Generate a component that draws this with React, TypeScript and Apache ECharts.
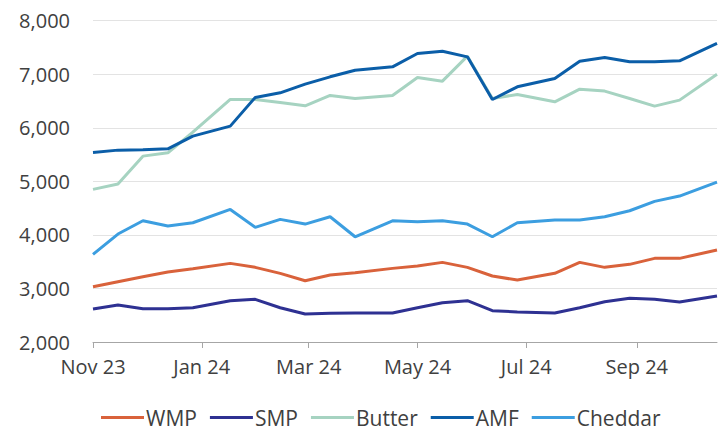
import React, { useEffect, useRef } from "react";
import * as echarts from "echarts";

const dates = [
  "2023-11-01", "2023-11-15", "2023-11-29", "2023-12-13", "2023-12-27",
  "2024-01-17", "2024-01-31", "2024-02-14", "2024-02-28", "2024-03-13",
  "2024-03-27", "2024-04-17", "2024-05-01", "2024-05-15", "2024-05-29",
  "2024-06-12", "2024-06-26", "2024-07-17", "2024-07-31", "2024-08-14",
  "2024-08-28", "2024-09-11", "2024-09-25", "2024-10-16",
];

const wmp = [3033, 3126, 3219, 3306, 3368, 3468, 3394, 3282, 3144, 3250, 3293, 3375, 3418, 3487, 3394, 3232, 3157, 3282, 3487, 3394, 3450, 3562, 3562, 3717];
const smp = [2616, 2691, 2622, 2622, 2640, 2771, 2797, 2640, 2523, 2535, 2541, 2541, 2640, 2734, 2771, 2585, 2560, 2541, 2640, 2752, 2815, 2797, 2747, 2858];
const butter = [4850, 4949, 5471, 5533, 5920, 6529, 6529, 6473, 6410, 6604, 6548, 6604, 6940, 6871, 7338, 6548, 6623, 6485, 6722, 6685, 6548, 6405, 6517, 7002];
const amf = [5540, 5583, 5590, 5608, 5845, 6031, 6567, 6653, 6815, 6952, 7076, 7139, 7388, 7431, 7325, 6529, 6765, 6920, 7244, 7313, 7232, 7232, 7250, 7575];
const cheddar = [3636, 4016, 4264, 4165, 4227, 4476, 4140, 4290, 4202, 4339, 3965, 4264, 4245, 4264, 4202, 3965, 4227, 4277, 4277, 4339, 4451, 4626, 4725, 4986];

const tickDates = ["2023-11-01", "2024-01-01", "2024-03-01", "2024-05-01", "2024-07-01", "2024-09-01"];
const tickLabels = ["Nov 23", "Jan 24", "Mar 24", "May 24", "Jul 24", "Sep 24"];

const seriesNames = ["WMP", "SMP", "Butter", "AMF", "Cheddar"];
const seriesData = [wmp, smp, butter, amf, cheddar];
const colors = ["#d9623b", "#2e3192", "#a6d3c1", "#0b5ea8", "#3c9ee0"];

const DAY = 86400000;
const toTime = (s: string) => {
  const [y, m, d] = s.split("-").map(Number);
  return Date.UTC(y, m - 1, d);
};
const t0 = toTime(dates[0]);
const dayOf = (s: string) => Math.round((toTime(s) - t0) / DAY);
const dayX = dates.map(dayOf);
const tickDays = tickDates.map(dayOf);

const FONT = "'Open Sans', sans-serif";
const TEXT = "#404040";

export default function App() {
  const ref = useRef<HTMLDivElement>(null);
  useEffect(() => {
    if (!ref.current) return;
    const chart = echarts.init(ref.current, undefined, { renderer: "svg" });
    chart.setOption({
      animation: false,
      textStyle: { fontFamily: FONT },
      grid: { left: 93, right: 8, top: 20.7, bottom: 90, containLabel: false, outerBoundsMode: "none" },
      legend: {
        data: seriesNames,
        left: 101,
        top: 407,
        padding: 0,
        icon: "rect",
        itemWidth: 43,
        itemHeight: 3,
        itemGap: 13,
        textStyle: { color: TEXT, fontSize: 21, lineHeight: 20, fontFamily: FONT, padding: [0, 0, 0, -3] },
      },
      xAxis: {
        type: "value",
        min: 0,
        max: dayX[dayX.length - 1],
        splitLine: { show: false },
        axisLine: { show: true, lineStyle: { color: "#a6a6a6", width: 1 } },
        axisTick: { show: true, customValues: tickDays, length: 6, lineStyle: { color: "#a6a6a6" } },
        axisLabel: {
          customValues: tickDays,
          margin: 14,
          color: TEXT,
          fontSize: 20,
          fontFamily: FONT,
          formatter: (v: number) => {
            const i = tickDays.indexOf(Math.round(v));
            return i >= 0 ? tickLabels[i] : "";
          },
        },
      },
      yAxis: {
        type: "value",
        min: 2000,
        max: 8000,
        interval: 1000,
        axisLine: { show: false },
        axisTick: { show: false },
        splitLine: { lineStyle: { color: "#e3e3e3", width: 1 } },
        axisLabel: {
          margin: 23,
          color: TEXT,
          fontSize: 20,
          fontFamily: FONT,
          formatter: (v: number) => v.toLocaleString("en-US"),
        },
      },
      series: seriesNames.map((name, k) => ({
        name,
        type: "line",
        data: seriesData[k].map((v, i) => [dayX[i], v]),
        showSymbol: false,
        symbol: "none",
        lineStyle: { color: colors[k], width: 3 },
        itemStyle: { color: colors[k] },
        z: 2 + k,
      })),
    });
    return () => chart.dispose();
  }, []);
  return <div ref={ref} style={{ position: "absolute", left: 0, top: 0, width: 725, height: 432 }} />;
}
